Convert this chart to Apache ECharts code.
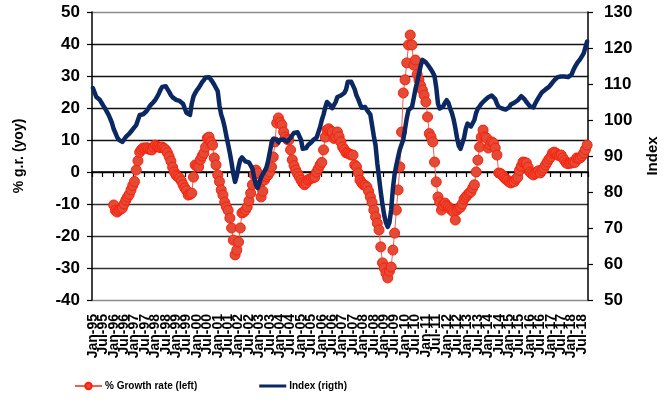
<!DOCTYPE html>
<html>
<head>
<meta charset="utf-8">
<script src="https://cdn.jsdelivr.net/npm/echarts@6/dist/echarts.min.js"></script>
<style>
  html, body { margin: 0; padding: 0; background: #fff; }
  #chart { width: 672px; height: 400px; }
</style>
</head>
<body>
<div id="chart"></div>
<script>
// Monthly categories, Jan-95 .. Oct-18
const MONTHS = ['Jan', 'Feb', 'Mar', 'Apr', 'May', 'Jun', 'Jul', 'Aug', 'Sep', 'Oct', 'Nov', 'Dec'];
const FIRST_YEAR = 1995;

// Year-on-year growth rate, % (left axis); no value during the first year
const growthRate = [
  null, null, null, null, null, null, null, null, null, null, null, null,          // 1995
  -10.3, -12.0, -12.5, -12.0, -11.6, -11.3, -10.0, -8.8, -7.8, -7.0, -5.6, -4.2,   // 1996
  -3.0, 0.6, 3.5, 6.2, 7.0, 7.5, 7.4, 7.6, 7.3, 7.0, 6.9, 7.8,                     // 1997
  8.4, 8.0, 7.8, 7.6, 7.8, 7.4, 6.9, 6.0, 4.8, 3.4, 1.5, 0.0,                      // 1998
  -1.0, -1.5, -1.9, -2.8, -4.0, -5.0, -5.8, -7.2, -7.0, -6.6, -1.6, 2.2,           // 1999
  1.8, 1.6, 3.8, 5.0, 5.9, 7.8, 10.6, 10.9, 9.4, 8.4, 4.4, 2.2,                    // 2000
  -0.9, -3.0, -5.6, -7.2, -9.5, -10.9, -12.0, -14.4, -17.5, -21.3, -25.9, -24.4,   // 2001
  -21.9, -17.5, -12.8, -12.5, -11.9, -10.9, -9.0, -6.6, -4.0, -0.9, 0.6, -0.3,     // 2002
  -4.0, -7.8, -6.0, -2.5, -1.5, -0.9, 0.0, 1.6, 4.7, 9.4, 15.3, 16.9,              // 2003
  15.5, 14.7, 12.5, 10.9, 10.2, 10.0, 6.9, 3.8, 2.0, 0.6, -0.5, -1.5,              // 2004
  -2.5, -3.4, -4.0, -3.5, -2.5, -2.2, -1.9, -1.8, -1.6, 0.0, 1.0, 2.2,             // 2005
  3.0, 6.9, 10.9, 13.1, 13.5, 12.8, 12.5, 10.5, 10.9, 12.5, 11.0, 9.4,             // 2006
  7.8, 7.0, 6.0, 5.9, 5.6, 5.3, 5.3, 2.2, 1.6, -0.3, -2.5, -3.4,                   // 2007
  -4.0, -4.2, -4.7, -6.0, -7.8, -9.5, -11.9, -14.0, -16.0, -18.1, -23.4, -28.4,    // 2008
  -30.0, -31.6, -33.1, -31.0, -29.7, -24.4, -19.1, -11.9, -5.6, 1.6, 12.5, 24.7,   // 2009
  28.8, 34.1, 39.7, 42.8, 39.7, 33.4, 35.0, 30.5, 28.8, 27.0, 25.6, 24.0,          // 2010
  21.9, 17.2, 12.0, 10.9, 9.4, 3.1, -3.1, -7.8, -9.4, -11.9, -10.5, -9.7,          // 2011
  -10.5, -10.9, -11.5, -12.0, -12.5, -15.0, -11.9, -11.3, -11.0, -10.0, -8.5, -7.8, // 2012
  -7.2, -6.6, -6.2, -5.0, -4.0, 0.0, 3.7, 7.8, 10.9, 13.1, 11.0, 10.6,             // 2013
  7.5, 8.5, 9.4, 9.0, 7.5, 5.3, -0.3, -0.5, -0.9, -1.6, -2.2, -2.5,                // 2014
  -3.1, -3.4, -3.1, -3.0, -2.2, -1.6, 0.5, 1.8, 3.1, 3.0, 2.8, 1.5,                // 2015
  0.0, -0.5, -0.9, -0.5, 0.0, 0.4, -0.3, 0.5, 1.2, 2.2, 3.1, 4.0,                  // 2016
  4.7, 5.9, 6.2, 5.9, 5.3, 5.1, 5.3, 4.4, 3.6, 2.8, 2.6, 2.8,                      // 2017
  2.8, 3.1, 3.0, 4.4, 4.2, 4.4, 5.0, 5.9, 7.0, 8.4                                 // 2018
];

// Index level (right axis)
const indexLevel = [
  108.9, 108.5, 106.4, 106.0, 105.6, 104.8, 104.0, 103.2, 102.8, 101.5, 100.4, 99.2, // 1995
  97.5, 96.4, 95.2, 94.5, 94.0, 93.9, 94.6, 95.3, 95.8, 96.2, 96.8, 97.2,            // 1996
  98.0, 98.6, 100.0, 101.4, 101.3, 101.6, 101.9, 102.5, 103.2, 104.0, 104.3, 105.0,  // 1997
  105.6, 106.4, 107.3, 108.4, 109.2, 109.5, 109.4, 108.6, 107.8, 106.9, 106.3, 105.8, // 1998
  105.6, 105.4, 105.3, 105.0, 104.5, 103.2, 102.0, 101.5, 101.4, 104.5, 106.5, 107.5, // 1999
  108.3, 108.9, 109.7, 110.5, 111.1, 111.8, 112.2, 111.9, 111.5, 110.6, 109.8, 108.9, // 2000
  108.0, 104.0, 101.5, 100.0, 98.0, 95.5, 93.2, 90.8, 88.0, 85.0, 82.8, 84.5,        // 2001
  87.0, 89.0, 89.6, 89.4, 88.5, 88.0, 88.2, 88.4, 86.5, 84.0, 82.0, 81.1,            // 2002
  82.5, 84.0, 85.0, 85.8, 86.7, 88.5, 91.0, 93.5, 94.8, 95.3, 94.5, 93.8,            // 2003
  94.5, 95.0, 94.6, 94.2, 94.0, 94.2, 95.0, 95.8, 96.4, 96.5, 96.6, 96.4,            // 2004
  94.5, 92.0, 91.7, 92.2, 93.0, 93.4, 93.8, 94.4, 94.8, 95.1, 95.5, 98.0,            // 2005
  100.0, 101.5, 103.5, 105.0, 104.5, 104.0, 103.3, 103.5, 105.0, 106.4, 106.6, 106.8, // 2006
  107.0, 107.5, 108.5, 110.6, 110.8, 110.6, 110.3, 108.5, 106.8, 105.8, 104.5, 103.4, // 2007
  103.5, 103.6, 102.8, 102.3, 101.5, 98.5, 95.5, 93.0, 88.0, 84.0, 80.0, 76.5,       // 2008
  73.5, 71.5, 70.3, 71.5, 75.0, 81.0, 85.0, 87.5, 89.7, 91.8, 93.2, 94.6,            // 2009
  97.5, 100.5, 102.8, 103.2, 103.6, 106.0, 108.6, 110.5, 112.8, 115.0, 116.7, 116.4, // 2010
  116.0, 115.4, 114.9, 114.0, 113.2, 112.2, 109.0, 104.5, 103.2, 102.9, 103.8, 104.8, // 2011
  105.5, 104.8, 103.2, 102.0, 100.2, 97.8, 95.0, 92.8, 92.0, 93.5, 95.0, 97.5,       // 2012
  99.0, 98.6, 98.2, 98.1, 100.0, 102.0, 103.2, 103.8, 104.5, 105.0, 105.5, 106.0,    // 2013
  106.3, 106.6, 106.8, 106.9, 105.8, 104.5, 103.6, 103.3, 103.2, 103.0, 102.9, 102.8, // 2014
  103.5, 104.3, 104.7, 104.8, 105.1, 105.5, 106.0, 106.6, 106.6, 105.7, 105.0, 104.4, // 2015
  103.8, 103.4, 103.5, 104.5, 105.4, 106.2, 107.0, 107.7, 108.2, 108.5, 108.7, 109.2, // 2016
  109.8, 110.3, 111.0, 111.5, 111.9, 112.0, 112.1, 112.2, 112.1, 112.0, 111.9, 111.9, // 2017
  112.6, 113.8, 114.8, 115.6, 116.3, 116.9, 117.4, 118.5, 120.2, 121.8               // 2018
];

const categories = indexLevel.map(function (_, i) {
  const yy = String((FIRST_YEAR + Math.floor(i / 12)) % 100).padStart(2, '0');
  return MONTHS[i % 12] + '-' + yy;
});

const FONT = '"Liberation Sans", Arial, sans-serif';
const labelStyle = { fontFamily: FONT, fontWeight: 'bold', color: '#000' };

// Bottom label axis: one axis for the January labels, one for the July labels,
// so that neighbouring labels on each axis are a full year apart.
function labelAxis(monthOffset) {
  return {
    type: 'category',
    data: categories,
    position: 'bottom',
    axisLine: { show: false, onZero: false },
    axisTick: { show: false },
    splitLine: { show: false },
    axisLabel: Object.assign({
      interval: function (i) { return i % 12 === monthOffset; },
      rotate: 90, margin: 14, fontSize: 14
    }, labelStyle)
  };
}

const chart = echarts.init(document.getElementById('chart'), null, { renderer: 'canvas' });

chart.setOption({
  animation: false,
  backgroundColor: '#fff',
  grid: { left: 92, right: 84, top: 12, bottom: 100, containLabel: false },
  legend: {
    left: 74,
    top: 381,
    padding: 0,
    itemWidth: 27,
    itemHeight: 8,
    itemGap: 62,
    textStyle: Object.assign({ fontSize: 10, padding: [0, 0, 0, -2] }, labelStyle),
    data: [
      { name: '% Growth rate (left)' },
      { name: 'Index (rigth)', icon: 'path://M0 0H28V0ZM0 2.5H28V5.5H0ZM0 8H28V8Z' }
    ]
  },
  xAxis: [
    labelAxis(0),
    {
      // tick marks along the zero line
      type: 'category',
      data: categories,
      position: 'top',
      axisLine: { show: true, onZero: true, onZeroAxisIndex: 0, lineStyle: { color: '#000', width: 1.5 } },
      axisTick: { show: true, inside: true, interval: 5, length: 5, lineStyle: { color: '#000', width: 1.2 } },
      axisLabel: { show: false },
      splitLine: { show: false }
    },
    labelAxis(6)
  ],
  yAxis: [
    {
      type: 'value',
      position: 'left',
      min: -40,
      max: 50,
      interval: 10,
      name: '% g.r. (yoy)',
      nameLocation: 'middle',
      nameRotate: 90,
      nameGap: 66,
      nameTextStyle: Object.assign({ fontSize: 14 }, labelStyle),
      axisLine: { show: true, lineStyle: { color: '#000', width: 1.5 } },
      axisTick: { show: true, length: 5, lineStyle: { color: '#000', width: 1.2 } },
      axisLabel: Object.assign({ fontSize: 17, margin: 12 }, labelStyle),
      splitLine: {
        show: true,
        lineStyle: {
          width: 1.3,
          color: ['#8a8a8a', '#333', '#333', '#333', '#000', '#111', '#111', '#111', '#111', '#8a8a8a']
        }
      }
    },
    {
      type: 'value',
      position: 'right',
      min: 50,
      max: 130,
      interval: 10,
      name: 'Index',
      nameLocation: 'middle',
      nameRotate: 90,
      nameGap: 57,
      nameTextStyle: Object.assign({ fontSize: 15 }, labelStyle),
      axisLine: { show: true, lineStyle: { color: '#000', width: 1.5 } },
      axisTick: { show: true, length: 5, lineStyle: { color: '#000', width: 1.2 } },
      axisLabel: Object.assign({ fontSize: 17, margin: 16 }, labelStyle),
      splitLine: { show: false }
    }
  ],
  series: [
    {
      name: '% Growth rate (left)',
      type: 'line',
      xAxisIndex: 0,
      yAxisIndex: 0,
      data: growthRate,
      symbol: 'circle',
      symbolSize: 10,
      showAllSymbol: true,
      lineStyle: { color: '#f2604c', width: 1 },
      itemStyle: { color: '#e24b36', borderColor: '#ff1e0a', borderWidth: 1 },
      z: 2
    },
    {
      name: 'Index (rigth)',
      type: 'line',
      xAxisIndex: 0,
      yAxisIndex: 1,
      data: indexLevel,
      symbol: 'none',
      lineStyle: { color: '#0b2862', width: 4.5, cap: 'round', join: 'round' },
      itemStyle: { color: '#0b2862' },
      z: 3
    }
  ]
});
</script>
</body>
</html>
